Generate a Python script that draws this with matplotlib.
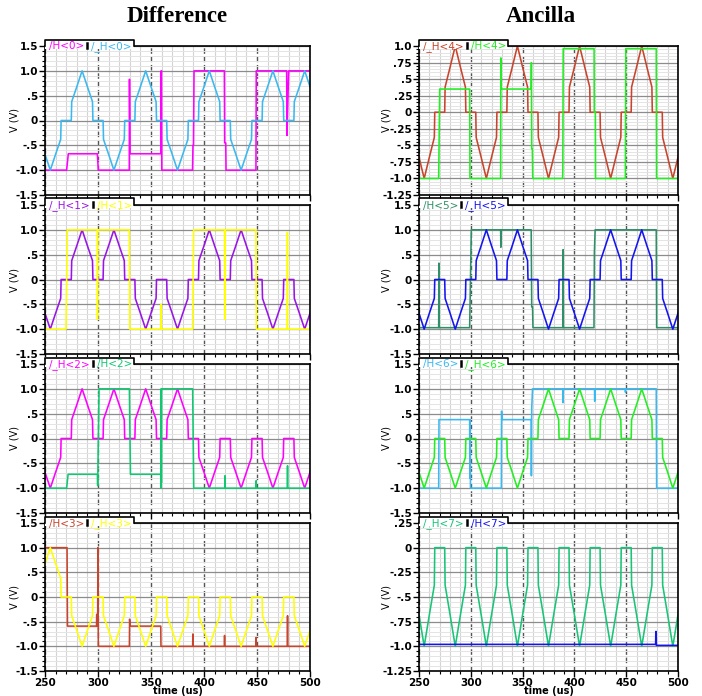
import matplotlib
matplotlib.use("Agg")
import matplotlib.pyplot as plt
from matplotlib.lines import Line2D
from matplotlib.patches import Rectangle
from matplotlib.ticker import MultipleLocator

W, H = 702, 696

# lobe centres (us) of the "_H" traces and the shape of one lobe
lobe_t = [255, 285, 315, 345, 375, 405, 435, 465, 495]
tent_dt = [-10.2, -9.8, -5, 0, 5, 9.8, 10.2]
tent_v = [0, 0.38, 0.68, 1.0, 0.68, 0.38, 0]

# polarity of each lobe
lobes_h0 = [-1, 1, -1, 1, -1, 1, -1, 1, 1]
lobes_h1 = [-1, 1, 1, -1, -1, 1, 1, -1, -1]
lobes_h2 = [-1, 1, 1, 1, 1, -1, -1, -1, -1]
lobes_h3 = [1, -1, -1, -1, -1, -1, -1, -1, -1]
lobes_h4 = [-1, 1, -1, 1, -1, 1, -1, 1, -1]
lobes_h5 = [-1, -1, 1, 1, -1, -1, 1, 1, -1]
lobes_h6 = [-1, -1, -1, -1, 1, 1, 1, 1, -1]
lobes_h7 = [-1, -1, -1, -1, -1, -1, -1, -1, -1]

# "/H" traces: breakpoints (us, V)
h0_t = [250, 270.4, 272.0, 299.4, 300.3, 329.5, 329.7, 330.2, 330.8, 359.3, 359.5, 359.9, 360.2,
        389.2, 389.6, 390.1, 390.6, 419.2, 419.5, 420.5, 420.8, 449.0, 449.3, 478.0, 478.3, 479.5, 479.9, 500]
h0_v = [-1.0, -1.0, -0.67, -0.67, -1.0, -1.0, 0.83, -0.67, -0.67, -0.67, 1.0, 1.0, -1.0,
        -1.0, -0.5, -0.5, 1.0, 1.0, -0.45, -0.45, -1.0, -1.0, 1.0, 1.0, -0.3, 0.7, 1.0, 1.0]

h1_t = [250, 269.8, 270.0, 271.0, 299.3, 299.5, 299.8, 329.6, 330.0, 359.3, 359.5, 359.7,
        389.3, 390.2, 419.4, 419.6, 419.9, 449.0, 449.4, 478.5, 478.7, 478.9, 500]
h1_v = [-1.0, -1.0, -0.75, 1.0, 1.0, -0.8, 1.0, 1.0, -1.0, -1.0, -0.5, -1.0,
        -1.0, 1.0, 1.0, -0.8, 1.0, 1.0, -1.0, -1.0, 0.95, -1.0, -1.0]

h2_t = [250, 270.4, 271.8, 299.4, 299.7, 301.0, 329.6, 330.6, 359.3, 359.4, 359.6, 359.8, 360.0,
        389.3, 390.3, 419.6, 419.8, 420.0, 449.0, 449.2, 449.4, 478.6, 478.8, 479.0, 500]
h2_v = [-1.0, -1.0, -0.72, -0.72, -0.95, 1.0, 1.0, -0.72, -0.72, -1.0, 1.0, -0.9, 1.0,
        1.0, -1.0, -1.0, -0.75, -1.0, -1.0, -0.85, -1.0, -1.0, -0.55, -1.0, -1.0]

h3_t = [250, 270.8, 271.2, 298.6, 298.8, 299.0, 299.7, 299.9, 300.3, 329.6, 329.8, 330.4, 359.2, 359.4,
        389.3, 389.5, 389.7, 419.2, 419.4, 419.6, 449.0, 449.2, 449.4, 478.6, 478.8, 479.0, 500]
h3_v = [1.0, 1.0, -0.59, -0.59, -0.35, -0.59, -0.59, 1.0, -1.0, -1.0, -0.45, -0.59, -0.59, -1.0,
        -1.0, -0.75, -1.0, -1.0, -0.78, -1.0, -1.0, -0.82, -1.0, -1.0, -0.38, -1.0, -1.0]

h4_t = [250, 269.0, 270.0, 298.9, 299.2, 328.8, 329.0, 329.4, 358.3, 358.5, 358.8, 359.4, 359.8,
        388.6, 388.8, 389.2, 419.0, 419.2, 420.2, 420.4, 449.2, 449.6, 479.0, 479.3, 500]
h4_v = [-1.0, -1.0, 0.35, 0.35, -1.0, -1.0, 0.82, 0.35, 0.35, 0.75, -0.55, -0.55, -1.0,
        -1.0, -0.9, 0.96, 0.96, 0.0, 0.0, -1.0, -1.0, 0.96, 0.96, -1.0, -1.0]

h5_t = [250, 269.0, 269.2, 269.5, 298.9, 300.5, 328.8, 329.0, 329.3, 358.3, 358.8, 359.6, 360.0,
        388.9, 389.1, 389.4, 418.9, 419.3, 420.0, 479.0, 479.4, 500]
h5_v = [-0.97, -0.97, 0.33, -0.97, -0.97, 1.0, 1.0, 0.65, 1.0, 1.0, -0.55, -0.55, -0.97,
        -0.97, 0.6, -0.97, -0.97, 0.55, 1.0, 1.0, -0.97, -0.97]

h6_t = [250, 269.0, 269.3, 298.9, 299.1, 299.4, 299.7, 329.5, 329.7, 330.3, 358.3, 358.5, 358.8, 359.6,
        388.8, 389.0, 389.2, 419.4, 419.6, 419.8, 449.1, 449.3, 449.5, 479.0, 479.4, 500]
h6_v = [-1.0, -1.0, 0.38, 0.38, -0.8, 0.38, -1.0, -1.0, 0.55, 0.38, 0.38, -0.75, 0.6, 1.0,
        1.0, 0.72, 1.0, 1.0, 0.75, 1.0, 1.0, 0.93, 1.0, 1.0, -1.0, -1.0]

h7_t = [250, 478.4, 478.6, 478.9, 479.1, 500]
h7_v = [-0.98, -0.98, -0.85, -0.85, -0.99, -0.99]

# y axes
ticks_15 = [1.5, 1.0, 0.5, 0, -0.5, -1.0, -1.5]
labels_15 = ['1.5', '1.0', '.5', '0', '-.5', '-1.0', '-1.5']
ticks_a = [1.0, 0.75, 0.5, 0.25, 0, -0.25, -0.5, -0.75, -1.0, -1.25]
labels_a = ['1.0', '.75', '.5', '.25', '0', '-.25', '-.5', '-.75', '-1.0', '-1.25']
ticks_b = [0.25, 0, -0.25, -0.5, -0.75, -1.0, -1.25]
labels_b = ['.25', '0', '-.25', '-.5', '-.75', '-1.0', '-1.25']

x_ticks = [250, 300, 350, 400, 450, 500]

MAGENTA = '#ff00ff'
SKY = '#3ab8f0'
PURPLE = '#9a14e6'
YELLOW = '#ffff00'
GREEN = '#10c870'
BROWN = '#c8442c'
LIME = '#22ee22'
TEAL = '#2e9068'
BLUE = '#1414f0'
SEA = '#18c478'


def lobe_trace(signs):
    t, v = [], []
    for c, s in zip(lobe_t, signs):
        t += [c + d for d in tent_dt]
        v += [s * a for a in tent_v]
    return t, v


fig = plt.figure(figsize=(W / 100, H / 100), dpi=100)
renderer = fig.canvas.get_renderer()

col_x = [(45, 310), (419, 678)]
row_y = [(46, 195), (205, 354), (364, 513), (523, 671)]

panels = [
    (0, 0, [('/H<0>', MAGENTA, h0_t, h0_v), ('/_H<0>', SKY) + lobe_trace(lobes_h0)], (-1.5, 1.5), ticks_15, labels_15, 0.1),
    (0, 1, [('/_H<1>', PURPLE) + lobe_trace(lobes_h1), ('/H<1>', YELLOW, h1_t, h1_v)], (-1.5, 1.5), ticks_15, labels_15, 0.1),
    (0, 2, [('/_H<2>', MAGENTA) + lobe_trace(lobes_h2), ('/H<2>', GREEN, h2_t, h2_v)], (-1.5, 1.5), ticks_15, labels_15, 0.1),
    (0, 3, [('/H<3>', BROWN, h3_t, h3_v), ('/_H<3>', YELLOW) + lobe_trace(lobes_h3)], (-1.5, 1.5), ticks_15, labels_15, 0.1),
    (1, 0, [('/_H<4>', BROWN) + lobe_trace(lobes_h4), ('/H<4>', LIME, h4_t, h4_v)], (-1.25, 1.0), ticks_a, labels_a, 0.05),
    (1, 1, [('/H<5>', TEAL, h5_t, h5_v), ('/_H<5>', BLUE) + lobe_trace(lobes_h5)], (-1.5, 1.5), ticks_15, labels_15, 0.1),
    (1, 2, [('/H<6>', SKY, h6_t, h6_v), ('/_H<6>', LIME) + lobe_trace(lobes_h6)], (-1.5, 1.5), ticks_15, labels_15, 0.1),
    (1, 3, [('/_H<7>', SEA) + lobe_trace(lobes_h7), ('/H<7>', BLUE, h7_t, h7_v)], (-1.25, 0.25), ticks_b, labels_b, 0.05),
]

for col, row, traces, ylim, yt, yl, minor in panels:
    x0, x1 = col_x[col]
    top, bot = row_y[row]
    ax = fig.add_axes([x0 / W, 1 - bot / H, (x1 - x0) / W, (bot - top) / H])
    for label, color, t, v in traces:
        ax.plot(t, v, color=color, lw=1.15)
    ax.set_xlim(250, 500)
    ax.set_ylim(*ylim)
    ax.set_yticks(yt)
    ax.set_yticklabels(yl)
    ax.yaxis.set_minor_locator(MultipleLocator(minor))
    ax.set_xticks(x_ticks)
    ax.xaxis.set_minor_locator(MultipleLocator(10))
    ax.set_axisbelow(True)
    ax.grid(which='minor', axis='x', color='#d4d4d4', lw=0.8)
    ax.grid(which='minor', axis='y', color='#e4e4e4', lw=0.7)
    ax.grid(which='major', axis='y', color='#8c8c8c', lw=0.9)
    ax.grid(which='major', axis='x', color='#555555', lw=1.0, ls=(0, (4, 2)))
    for s in ax.spines.values():
        s.set_linewidth(1.2)
    ax.tick_params(which='major', direction='out', length=4, width=1, labelsize=7.5, pad=1)
    ax.tick_params(which='minor', direction='out', length=2, width=0.8)
    for lab in ax.get_yticklabels() + ax.get_xticklabels():
        lab.set_fontweight('bold')
    ax.set_ylabel('V (V)', fontsize=7)
    ax.yaxis.set_label_coords(-0.095 if col == 0 else -0.105, 0.5)
    if row == 3:
        ax.set_xlabel('time (us)', fontsize=7, fontweight='bold')
        ax.xaxis.set_label_coords(0.5, -0.103)
    else:
        ax.tick_params(axis='x', which='both', labelbottom=False)

    # legend tab
    tab_w = 89
    fig.add_artist(Rectangle((x0 / W, 1 - (top + 3) / H), tab_w / W, 9.5 / H,
                             transform=fig.transFigure, facecolor='white', edgecolor='none', zorder=5))
    fig.add_artist(Line2D([x0 / W, x0 / W, (x0 + tab_w) / W, (x0 + tab_w) / W],
                          [1 - top / H, 1 - (top - 6.5) / H, 1 - (top - 6.5) / H, 1 - top / H],
                          transform=fig.transFigure, color='black', lw=1.2, zorder=6))
    px = x0 + 4
    for i, (label, color, t, v) in enumerate(traces):
        txt = fig.text(px / W, 1 - (top + 0.5) / H, label, color=color, fontsize=7.5,
                       ha='left', va='center', zorder=7)
        px += txt.get_window_extent(renderer).width + 3
        if i == 0:
            fig.add_artist(Line2D([px / W, px / W], [1 - (top + 2) / H, 1 - (top - 3) / H],
                                  transform=fig.transFigure, color='black', lw=1.8, zorder=7))
            px += 4

fig.text(177 / W, 1 - 17 / H, 'Difference', family='Liberation Serif', fontweight='bold',
         fontsize=16.5, ha='center', va='center')
fig.text(541 / W, 1 - 17 / H, 'Ancilla', family='Liberation Serif', fontweight='bold',
         fontsize=16.5, ha='center', va='center')

fig.savefig('out.png', dpi=100)
